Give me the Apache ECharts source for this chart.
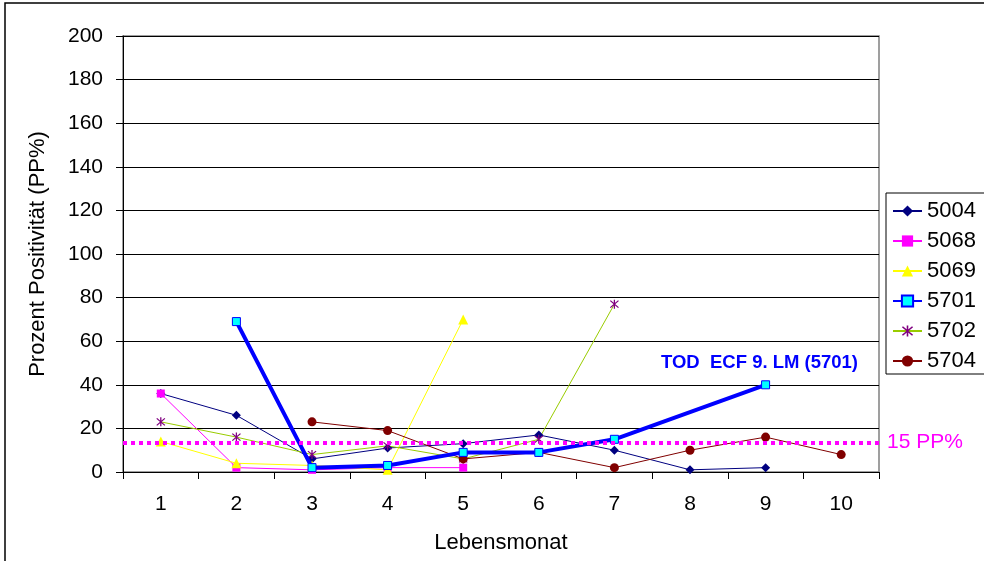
<!DOCTYPE html>
<html>
<head>
<meta charset="utf-8">
<title>Lebensmonat</title>
<script src="https://cdn.jsdelivr.net/npm/echarts@6/dist/echarts.min.js"></script>
<style>
    html, body { margin: 0; padding: 0; background: #fff; }
    #chart { width: 984px; height: 561px; }
</style>
</head>
<body>
<div id="chart"></div>
<script>
// Lebensmonat 1..10
var months = ['1', '2', '3', '4', '5', '6', '7', '8', '9', '10'];

var s5004 = [36, 26, 6, 11, 13, 17, 10, 1, 2, null];
var s5068 = [36, 2, 1, 2, 2, null, null, null, null, null];
var s5069 = [14, 4, 3, 1, 70, null, null, null, null, null];
var s5701 = [null, 69, 2, 3, 9, 9, 15, null, 40, null];
var s5702 = [23, 16, 8, 12, 6, 15, 77, null, null, null];
var s5704 = [null, null, 23, 19, 6, 9, 2, 10, 16, 8];

var yTicks = [0, 200, 20]; // min, max, interval
var threshold = 13.5;
var thresholdLabel = '15 PP%';
var noteText = 'TOD  ECF 9. LM (5701)';

var FONT = 'Liberation Sans, Arial, sans-serif';

// asterisk marker (x plus vertical bar)
var asterisk = 'path://M4.4,0L5.6,0L5.6,10L4.4,10Z' +
    'M1.6,0.8L9.2,8.4L8.4,9.2L0.8,1.6Z' +
    'M8.4,0.8L9.2,1.6L1.6,9.2L0.8,8.4Z';

var chart = {
    render: function () {
        var myChart = echarts.init(document.getElementById('chart'));

        var option = {
            backgroundColor: '#ffffff',
            animation: false,
            textStyle: { fontFamily: FONT },
            grid: {
                left: 123,
                right: 105,
                top: 36,
                bottom: 89,
                show: true,
                borderColor: '#808080',
                borderWidth: 1.5,
                backgroundColor: 'transparent'
            },
            legend: {
                orient: 'vertical',
                left: 886,
                top: 193,
                padding: [7, 30, 2, 6],
                itemWidth: 29,
                itemHeight: 14,
                itemGap: 8,
                borderColor: '#000',
                borderWidth: 1,
                textStyle: { fontSize: 22, color: '#000', fontFamily: FONT },
                data: ['5004', '5068', '5069', '5701', '5702', '5704']
            },
            xAxis: {
                type: 'category',
                data: months,
                boundaryGap: true,
                name: 'Lebensmonat',
                nameLocation: 'middle',
                nameGap: 60,
                nameTextStyle: { fontSize: 22, color: '#000', fontFamily: FONT },
                axisLine: { lineStyle: { color: '#000', width: 1 } },
                axisTick: { show: true, length: 7, lineStyle: { color: '#000' } },
                axisLabel: { fontSize: 21, color: '#000', margin: 22, fontFamily: FONT },
                splitLine: { show: false }
            },
            yAxis: {
                type: 'value',
                min: yTicks[0],
                max: yTicks[1],
                interval: yTicks[2],
                name: 'Prozent Positivität (PP%)',
                nameLocation: 'middle',
                nameRotate: 90,
                nameGap: 74,
                nameTextStyle: { fontSize: 22, color: '#000', fontFamily: FONT },
                axisLine: { show: true, lineStyle: { color: '#000', width: 1 } },
                axisTick: { show: true, length: 7, lineStyle: { color: '#000' } },
                axisLabel: { fontSize: 21, color: '#000', margin: 20, fontFamily: FONT },
                splitLine: { show: true, lineStyle: { color: '#000', width: 1 } }
            },
            graphic: [
                {
                    type: 'rect',
                    shape: { x: 5, y: 3, width: 1100, height: 700 },
                    style: { fill: 'none', stroke: '#000', lineWidth: 1.5 },
                    silent: true
                },
                {
                    type: 'text',
                    left: 661,
                    top: 353,
                    style: {
                        text: noteText,
                        fill: '#0000FF',
                        font: 'bold 18.5px ' + FONT
                    }
                }
            ],
            series: [
                {
                    name: '5004',
                    type: 'line',
                    data: s5004,
                    symbol: 'diamond',
                    symbolSize: 9,
                    lineStyle: { color: '#000080', width: 1 },
                    itemStyle: { color: '#000080' },
                    markLine: {
                        silent: true,
                        symbol: 'none',
                        lineStyle: { color: '#FF00FF', width: 4, type: [4, 4] },
                        label: {
                            show: true,
                            position: 'end',
                            distance: 8,
                            formatter: thresholdLabel,
                            color: '#FF00FF',
                            fontSize: 21,
                            fontFamily: FONT
                        },
                        data: [{ yAxis: threshold }]
                    },
                    z: 3
                },
                {
                    name: '5068',
                    type: 'line',
                    data: s5068,
                    symbol: 'rect',
                    symbolSize: 8,
                    lineStyle: { color: '#FF00FF', width: 1 },
                    itemStyle: { color: '#FF00FF' },
                    z: 3
                },
                {
                    name: '5069',
                    type: 'line',
                    data: s5069,
                    symbol: 'triangle',
                    symbolSize: 10,
                    lineStyle: { color: '#FFFF00', width: 1 },
                    itemStyle: { color: '#FFFF00' },
                    z: 3
                },
                {
                    name: '5701',
                    type: 'line',
                    data: s5701,
                    connectNulls: true,
                    symbol: 'rect',
                    symbolSize: 8,
                    lineStyle: { color: '#0000FF', width: 4 },
                    itemStyle: { color: '#00FFFF', borderColor: '#0000FF', borderWidth: 1 },
                    z: 4
                },
                {
                    name: '5702',
                    type: 'line',
                    data: s5702,
                    symbol: asterisk,
                    symbolSize: 9,
                    lineStyle: { color: '#99CC00', width: 1 },
                    itemStyle: { color: '#800080' },
                    z: 3
                },
                {
                    name: '5704',
                    type: 'line',
                    data: s5704,
                    symbol: 'circle',
                    symbolSize: 9,
                    lineStyle: { color: '#800000', width: 1 },
                    itemStyle: { color: '#800000' },
                    z: 3
                }
            ]
        };

        myChart.setOption(option);

        window.addEventListener('resize', function () {
            myChart.resize();
        });
    }
};

chart.render();
</script>
</body>
</html>
